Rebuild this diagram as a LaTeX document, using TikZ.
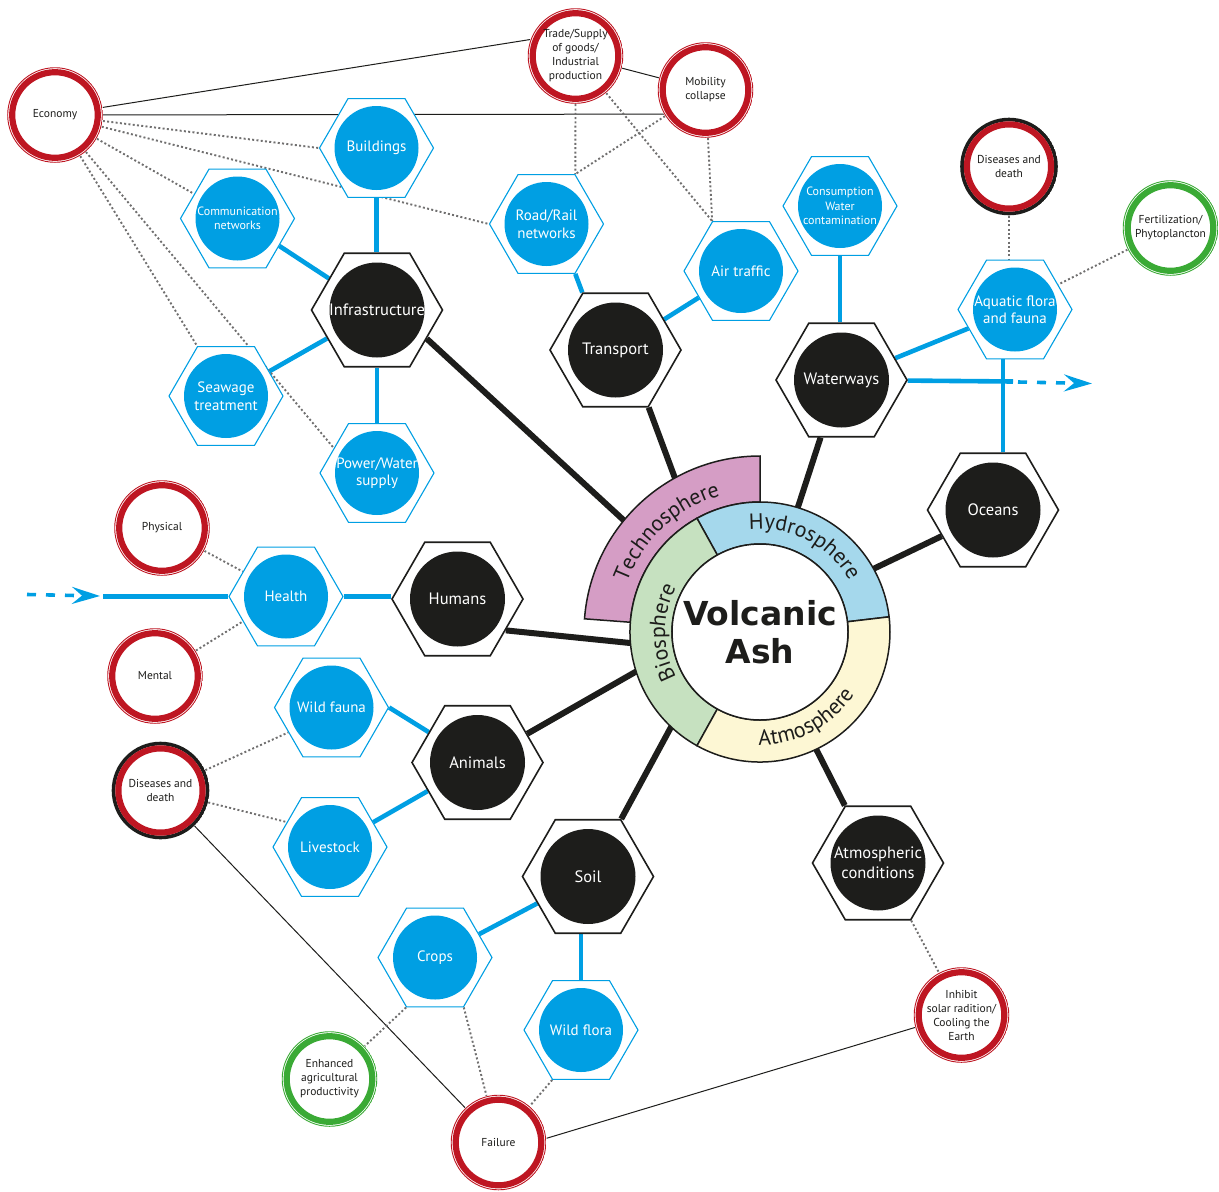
\documentclass[tikz,border=0pt]{standalone}
\usepackage{fontspec}
\setmainfont{PT Sans}
\newfontfamily\ashfont{DejaVu Sans}
\usetikzlibrary{shapes.geometric, arrows.meta, decorations.text}
\definecolor{myblue}{HTML}{009FE3}
\definecolor{myred}{HTML}{BE1622}
\definecolor{mygreen}{HTML}{3AAA35}
\definecolor{myblack}{HTML}{1D1D1B}
\definecolor{dotgray}{HTML}{706F6F}
\definecolor{techc}{HTML}{D59DC5}
\definecolor{hydc}{HTML}{A5D8EC}
\definecolor{bioc}{HTML}{C6E1C0}
\definecolor{atmc}{HTML}{FDF7D4}
\newcommand\spheref{\fontsize{22}{22}\selectfont\color{myblack}}
\pgfdeclarelayer{background}
\pgfsetlayers{background,main}
\tikzset{
  btext/.style={text=white, align=center, inner sep=0pt, font=\fontsize{16.5}{20}\selectfont},
  ltext/.style={text=white, align=center, inner sep=0pt, font=\fontsize{15}{17.5}\selectfont},
  stext/.style={text=white, align=center, inner sep=0pt, font=\fontsize{12}{14.5}\selectfont},
  bhex/.style={regular polygon, regular polygon sides=6, minimum size=131pt, inner sep=0pt,
    draw=myblack, line width=1.6pt, fill=white, label={[btext]center:#1},
    path picture={\fill[myblack] (path picture bounding box.center) circle[radius=47.5pt];}},
  lhexbase/.style={regular polygon, regular polygon sides=6, minimum size=114pt, inner sep=0pt,
    draw=myblue, line width=1.1pt, fill=white,
    path picture={\fill[myblue] (path picture bounding box.center) circle[radius=42pt];}},
  lhex/.style={lhexbase, label={[ltext]center:#1}},
  shex/.style={lhexbase, label={[stext]center:#1}},
  ringcirc/.style={circle, minimum size=96pt, inner sep=0pt, fill=white, text=myblack, align=center,
    font=\fontsize{11.5}{14}\selectfont,
    path picture={\draw[#1, line width=6.2pt] (path picture bounding box.center) circle[radius=42.8pt];
                  \draw[#1, line width=0.9pt] (path picture bounding box.center) circle[radius=47.3pt];}},
  rcirc/.style={ringcirc=myred},
  gcirc/.style={ringcirc=mygreen},
  dcirc/.style={circle, minimum size=98pt, inner sep=0pt, fill=white, text=myblack, align=center,
    font=\fontsize{11.5}{14}\selectfont,
    path picture={\draw[myblack, line width=3.6pt] (path picture bounding box.center) circle[radius=47pt];
                  \draw[myred, line width=6.2pt] (path picture bounding box.center) circle[radius=42.1pt];}},
  thickblack/.style={draw=myblack, line width=6pt},
  blueline/.style={draw=myblue, line width=4.6pt},
  thinline/.style={draw=myblack, line width=1pt},
  dotline/.style={draw=dotgray, line width=1.9pt, dash pattern=on 2pt off 2.3pt},
  bluearrow/.style={draw=myblue, line width=3.6pt, dash pattern=on 9pt off 10pt,
    -{Stealth[length=28pt, width=17pt, inset=10pt]}},
  spherebox/.style={draw=myblack, line width=1.5pt},
}
\begin{document}
\begin{tikzpicture}[x=1pt, y=1pt]
\useasboundingbox (0,0) rectangle (1219,-1192);

% ---------- central rings ----------
\coordinate (c) at (760,-632);
\path[spherebox, fill=techc] (c) ++(90:130) -- ++(90:46) arc[start angle=90, end angle=175.7, radius=176]
   -- ++(175.7:-46) arc[start angle=175.7, end angle=90, radius=130] -- cycle;
\path[spherebox, fill=hydc] (c) ++(6.7:130) arc[start angle=6.7, end angle=119, radius=130]
   -- ++(119:-42) arc[start angle=119, end angle=6.7, radius=88] -- cycle;
\path[spherebox, fill=bioc] (c) ++(119:130) arc[start angle=119, end angle=241, radius=130]
   -- ++(241:-42) arc[start angle=241, end angle=119, radius=88] -- cycle;
\path[spherebox, fill=atmc] (c) ++(241:130) arc[start angle=241, end angle=366.7, radius=130]
   -- ++(366.7:-42) arc[start angle=366.7, end angle=241, radius=88] -- cycle;
\node[circle, minimum size=176pt, inner sep=0pt, draw=myblack, line width=1.5pt, fill=white,
      align=center, text=myblack, font=\ashfont\bfseries\fontsize{33}{38}\selectfont] (ash) at (c) {Volcanic\\Ash};

\path[decorate, decoration={text along path, text align=center, text={|\spheref|Technosphere}}]
  (c) ++(175.7:142) arc[start angle=175.7, end angle=90, radius=142];
\path[decorate, decoration={text along path, text align=center, text={|\spheref|Hydrosphere}}]
  (c) ++(119:103) arc[start angle=119, end angle=6.7, radius=103];
\path[decorate, decoration={text along path, text align=center, text={|\spheref|Biosphere}}]
  (c) ++(241:95) arc[start angle=241, end angle=119, radius=95];
\path[decorate, decoration={text along path, text align=center, text={|\spheref|Atmosphere}}]
  (c) ++(241:113) arc[start angle=241, end angle=355, radius=113];

% ---------- black hexagons ----------
\node[bhex={Infrastructure}] (infra)   at (377,-310)   {};
\node[bhex={Transport}]      (trans)   at (615.5,-350) {};
\node[bhex={Waterways}]      (water)   at (841.5,-380) {};
\node[bhex={Oceans}]         (oceans)  at (993,-510)   {};
\node[bhex={Humans}]         (humans)  at (457.5,-599) {};
\node[bhex={Animals}]        (animals) at (477.5,-762.5) {};
\node[bhex={Soil}]           (soil)    at (588,-876.5) {};
\node[bhex={Atmospheric\\conditions}] (atmos) at (878,-863) {};

% ---------- blue hexagons ----------
\node[lhex={Buildings}]   (build)  at (376.5,-148)  {};
\node[shex={Communication\\networks}] (comm) at (237.5,-218.5) {};
\node[lhex={Seawage\\treatment}] (seaw) at (226,-396) {};
\node[lhex={Power/Water\\supply}] (power) at (377,-473) {};
\node[lhex={Road/Rail\\networks}] (road) at (546.5,-224) {};
\node[lhex={Air traffic}] (air)    at (741,-271)    {};
\node[shex={Consumption\\Water\\contamination}] (cons) at (840,-206) {};
\node[lhex={Aquatic flora\\and fauna}] (aq) at (1015,-309.5) {};
\node[lhex={Health}]      (health) at (286,-596.5)  {};
\node[lhex={Wild fauna}]  (wfauna) at (331.5,-707.5) {};
\node[lhex={Livestock}]   (lstock) at (330,-847)    {};
\node[lhex={Crops}]       (crops)  at (435,-957.5)  {};
\node[lhex={Wild flora}]  (wflora) at (581,-1030)   {};

% ---------- outcome circles ----------
\node[rcirc] (econ)  at (55,-115)     {Economy};
\node[rcirc] (trade) at (575.5,-56) {Trade/Supply\\of goods/\\Industrial\\production};
\node[rcirc] (mob)   at (705.5,-90)   {Mobility\\collapse};
\node[dcirc] (dis1)  at (1009,-166.5) {Diseases and\\death};
\node[gcirc] (fert)  at (1170.5,-228) {Fertilization/\\Phytoplancton};
\node[rcirc] (phys)  at (162,-528)    {Physical};
\node[rcirc] (ment)  at (155,-676)    {Mental};
\node[dcirc] (dis2)  at (160.5,-790.5) {Diseases and\\death};
\node[gcirc] (enh)   at (329.5,-1079) {Enhanced\\agricultural\\productivity};
\node[rcirc] (fail)  at (498.5,-1142.5) {Failure};
\node[rcirc] (inhib) at (961.5,-1015) {Inhibit\\solar radition/\\Cooling the\\Earth};

% ---------- free ends ----------
\coordinate (rInfra) at (643,-538);
\coordinate (rTrans) at (679,-489);
\coordinate (rWater) at (797,-510);
\coordinate (rOcean) at (870,-570.5);
\coordinate (rHum)   at (640,-644);
\coordinate (rAnim)  at (644,-667);
\coordinate (rSoil)  at (677,-716);
\coordinate (rAtmo)  at (811,-739);
\coordinate (wA) at (1013,-381.5);
\coordinate (wB) at (1018,-382);
\coordinate (wC) at (1092,-383.5);
\coordinate (hA) at (27,-594.5);
\coordinate (hB) at (100,-596);
\coordinate (hC) at (103,-596.5);

\begin{pgfonlayer}{background}
  % thick black spokes
  \draw[thickblack] (infra.-30) -- (rInfra);
  \draw[thickblack] (trans.-60) -- (rTrans);
  \draw[thickblack] (water.-110) -- (rWater);
  \draw[thickblack] (oceans.-153) -- (rOcean);
  \draw[thickblack] (humans.-33) -- (rHum);
  \draw[thickblack] (animals.30) -- (rAnim);
  \draw[thickblack] (soil.60) -- (rSoil);
  \draw[thickblack] (atmos.120) -- (rAtmo);
  % blue links
  \draw[blueline] (build.south) -- (build.south |- infra.north);
  \draw[blueline] (infra) -- (comm);
  \draw[blueline] (infra) -- (seaw);
  \draw[blueline] (power.north) -- (power.north |- infra.south);
  \draw[blueline] (road.-60) -- (trans.120);
  \draw[blueline] (trans) -- (air);
  \draw[blueline] (cons.south) -- (cons.south |- water.north);
  \draw[blueline] (water) -- (aq);
  \draw[blueline] ([xshift=-12pt]aq.south) -- ([xshift=10pt]oceans.north);
  \draw[blueline] (water) -- (wA);
  \draw[bluearrow] (wB) -- (wC);
  \draw[blueline] (health.east) -- (health.east -| humans.west);
  \draw[blueline] (hC) -- (health);
  \draw[bluearrow] (hA) -- (hB);
  \draw[blueline] (wfauna.0) -- (animals);
  \draw[blueline] (animals) -- (lstock);
  \draw[blueline] (soil) -- (crops);
  \draw[blueline] (wflora.north) -- (wflora.north |- soil.south);
  % thin black lines
  \draw[thinline] (econ) -- (trade.160);
  \draw[thinline] (econ) -- (mob.210);
  \draw[thinline] (trade) -- (mob);
  \draw[thinline] (dis2) -- (fail);
  \draw[thinline] (fail.5) -- (inhib.195);
  % dotted lines
  \draw[dotline] (econ) -- (build.180);
  \draw[dotline] (econ) -- (road.180);
  \draw[dotline] (econ) -- (comm);
  \draw[dotline] (econ) -- (seaw.120);
  \draw[dotline] (econ) -- (power.150);
  \draw[dotline] (trade.south) -- (road.60);
  \draw[dotline] (mob) -- (road.60);
  \draw[dotline] (trade) -- (air.120);
  \draw[dotline] (mob) -- (air.120);
  \draw[dotline] (dis1.south) -- (dis1.south |- aq.north);
  \draw[dotline] (fert) -- (aq.30);
  \draw[dotline] (phys) -- (health.150);
  \draw[dotline] (ment) -- (health.210);
  \draw[dotline] (dis2) -- (wfauna.210);
  \draw[dotline] (dis2) -- (lstock.150);
  \draw[dotline] (crops.240) -- (enh);
  \draw[dotline] (crops.300) -- (fail);
  \draw[dotline] (wflora.240) -- (fail);
  \draw[dotline] (atmos.300) -- (inhib);
\end{pgfonlayer}
\end{tikzpicture}
\end{document}
